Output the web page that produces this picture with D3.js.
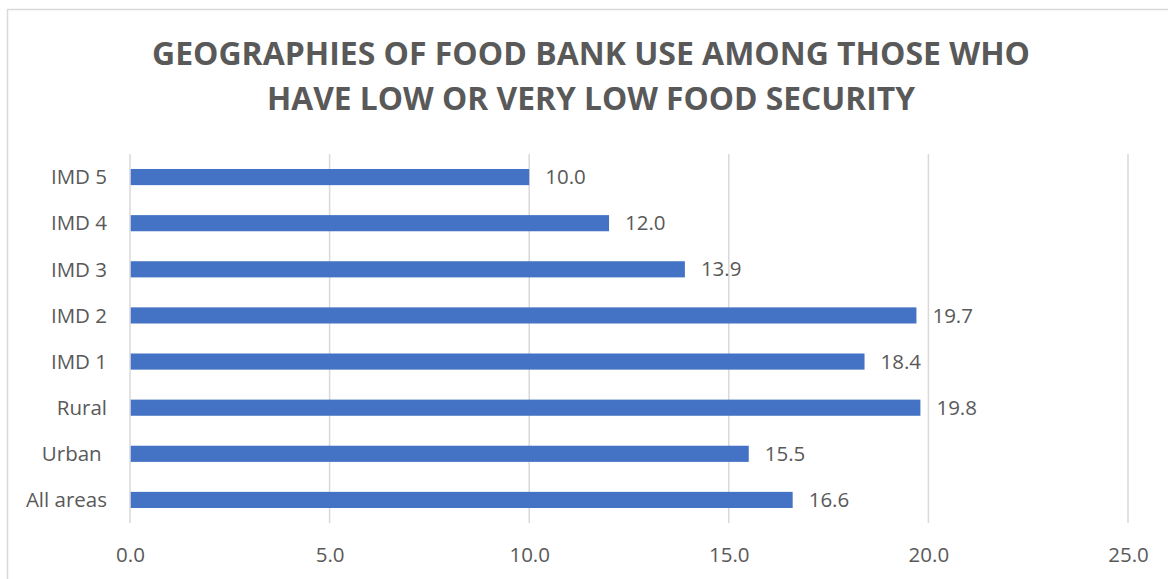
<!DOCTYPE html>
<html>
<head>
<meta charset="utf-8">
<script src="https://cdn.jsdelivr.net/npm/d3@7"></script>
<style>
  html, body { margin: 0; padding: 0; background: #fff; }
  svg { display: block; }
  text { font-family: "Open Sans", "Noto Sans", sans-serif; fill: #595959; }
</style>
</head>
<body>
<svg id="chart" width="1168" height="579"></svg>
<script>
// Share of people with low or very low food security who used a food bank (%)
const categories = ["IMD 5", "IMD 4", "IMD 3", "IMD 2", "IMD 1", "Rural", "Urban ", "All areas"];
const values = [10.0, 12.0, 13.9, 19.7, 18.4, 19.8, 15.5, 16.6];
const xTicks = [0, 5, 10, 15, 20, 25];
const titleLines = ["GEOGRAPHIES OF FOOD BANK USE AMONG THOSE WHO", "HAVE LOW OR VERY LOW FOOD SECURITY"];

const svg = d3.select("#chart");
const W = 1168, H = 579;
const plot = { left: 130, right: 1128, top: 154, bottom: 523 };

// Chart frame
svg.append("rect")
  .attr("x", 7.5).attr("y", 9.5)
  .attr("width", W + 10).attr("height", H + 10)
  .attr("fill", "#fff").attr("stroke", "#d9d9d9").attr("stroke-width", 1.5);

// Title
svg.append("g").selectAll("text")
  .data(titleLines)
  .join("text")
  .attr("x", 591)
  .attr("y", (d, i) => 65 + i * 45)
  .attr("text-anchor", "middle")
  .attr("font-size", 33)
  .attr("font-weight", 700)
  .attr("textLength", (d, i) => i === 0 ? 878 : 648)
  .attr("lengthAdjust", "spacingAndGlyphs")
  .text(d => d);

const x = d3.scaleLinear().domain([0, 25]).range([plot.left, plot.right]);
const y = d3.scaleBand().domain(categories).range([plot.top, plot.bottom]).paddingInner(0.65).paddingOuter(0.325);

// Vertical gridlines
svg.append("g").selectAll("line")
  .data(xTicks.slice(1))
  .join("line")
  .attr("x1", d => x(d)).attr("x2", d => x(d))
  .attr("y1", plot.top).attr("y2", plot.bottom)
  .attr("stroke", "#d9d9d9").attr("stroke-width", 1.5);

// Category axis line
svg.append("line")
  .attr("x1", x(0)).attr("x2", x(0))
  .attr("y1", plot.top).attr("y2", plot.bottom)
  .attr("stroke", "#d9d9d9").attr("stroke-width", 1.5);

// X axis tick labels
const xAxis = d3.axisBottom(x).tickValues(xTicks).tickFormat(d3.format(".1f")).tickSize(0).tickPadding(0);
const gx = svg.append("g").attr("transform", `translate(0, ${plot.bottom})`).call(xAxis);
gx.select(".domain").remove();
gx.selectAll("text")
  .attr("y", 39).attr("dy", null)
  .attr("font-size", 20.5)
  .attr("fill", "#595959")
  .attr("font-family", "Open Sans, sans-serif");

// Y axis category labels
const yAxis = d3.axisLeft(y).tickSize(0).tickPadding(0);
const gy = svg.append("g").attr("transform", `translate(107, 0)`).call(yAxis);
gy.select(".domain").remove();
gy.selectAll("text")
  .attr("x", 0).attr("dy", "0.35em")
  .attr("font-size", 20.5)
  .attr("fill", "#595959")
  .attr("font-family", "Open Sans, sans-serif")
  .style("white-space", "pre");

// Bars
svg.append("g").selectAll("rect")
  .data(values)
  .join("rect")
  .attr("x", x(0) + 0.75)
  .attr("y", (d, i) => y(categories[i]))
  .attr("width", d => x(d) - x(0) - 0.75)
  .attr("height", y.bandwidth())
  .attr("fill", "#4472c4");

// Value labels
svg.append("g").selectAll("text")
  .data(values)
  .join("text")
  .attr("x", d => x(d) + 16)
  .attr("y", (d, i) => y(categories[i]) + y.bandwidth() / 2)
  .attr("dy", "0.35em")
  .attr("font-size", 20.5)
  .text(d => d3.format(".1f")(d));
</script>
</body>
</html>
